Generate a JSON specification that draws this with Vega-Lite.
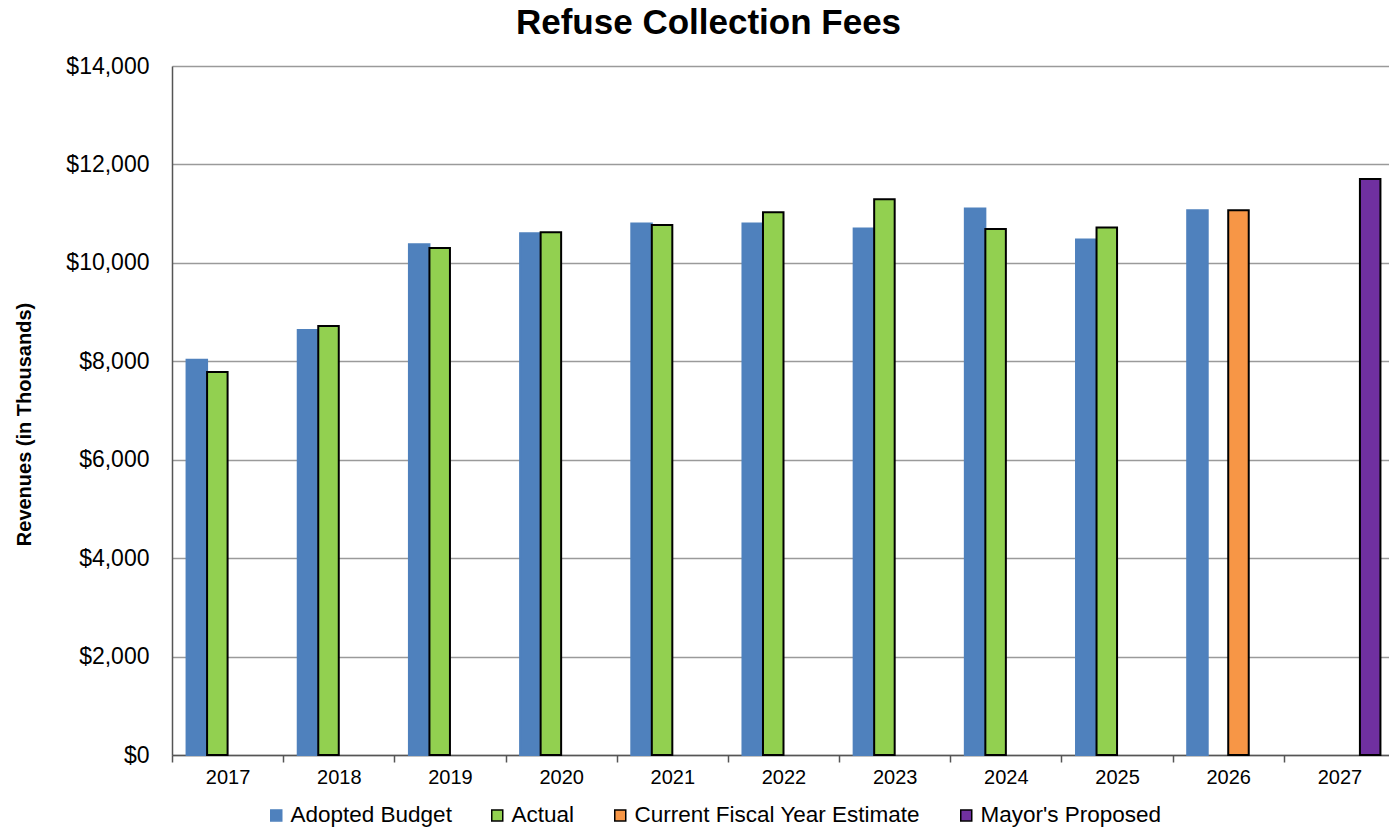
{
  "$schema": "https://vega.github.io/schema/vega-lite/v6.json",
  "autosize": "none",
  "width": 1223,
  "height": 689,
  "padding": {"left": 172, "top": 66, "right": 0, "bottom": 73},
  "background": "white",
  "title": {
    "text": "Refuse Collection Fees",
    "anchor": "middle",
    "frame": "group",
    "dx": -75,
    "offset": 14,
    "font": "Liberation Sans",
    "fontSize": 35,
    "fontWeight": "bold",
    "color": "black"
  },
  "data": {
    "values": [
      {"year": "2017", "series": "Adopted Budget", "value": 8030},
      {"year": "2017", "series": "Actual", "value": 7780},
      {"year": "2018", "series": "Adopted Budget", "value": 8636},
      {"year": "2018", "series": "Actual", "value": 8718},
      {"year": "2019", "series": "Adopted Budget", "value": 10378},
      {"year": "2019", "series": "Actual", "value": 10300},
      {"year": "2020", "series": "Adopted Budget", "value": 10600},
      {"year": "2020", "series": "Actual", "value": 10620},
      {"year": "2021", "series": "Adopted Budget", "value": 10800},
      {"year": "2021", "series": "Actual", "value": 10770},
      {"year": "2022", "series": "Adopted Budget", "value": 10800},
      {"year": "2022", "series": "Actual", "value": 11030},
      {"year": "2023", "series": "Adopted Budget", "value": 10700},
      {"year": "2023", "series": "Actual", "value": 11290},
      {"year": "2024", "series": "Adopted Budget", "value": 11105},
      {"year": "2024", "series": "Actual", "value": 10690},
      {"year": "2025", "series": "Adopted Budget", "value": 10475},
      {"year": "2025", "series": "Actual", "value": 10720},
      {"year": "2026", "series": "Adopted Budget", "value": 11070},
      {"year": "2026", "series": "Current Fiscal Year Estimate", "value": 11070},
      {"year": "2027", "series": "Mayor's Proposed", "value": 11705}
    ]
  },
  "mark": {"type": "bar", "strokeWidth": 2},
  "encoding": {
    "x": {
      "field": "year",
      "type": "nominal",
      "sort": null,
      "scale": {"paddingInner": 0, "paddingOuter": 0},
      "axis": {
        "title": null,
        "labelAngle": 0,
        "tickBand": "extent",
        "ticks": true,
        "tickSize": 7,
        "tickColor": "#555555",
        "tickWidth": 1.5,
        "domainColor": "#555555",
        "domainWidth": 1.5,
        "labelPadding": 5,
        "labelFont": "Liberation Sans",
        "labelFontSize": 20,
        "labelColor": "black",
        "grid": false
      }
    },
    "xOffset": {
      "field": "series",
      "type": "nominal",
      "scale": {
        "domain": ["Adopted Budget", "Actual", "Current Fiscal Year Estimate", "Mayor's Proposed"],
        "paddingInner": 0,
        "paddingOuter": 0.71
      }
    },
    "y": {
      "field": "value",
      "type": "quantitative",
      "scale": {"domain": [0, 14000], "nice": false},
      "axis": {
        "title": "Revenues (in Thousands)",
        "titleFont": "Liberation Sans",
        "titleFontSize": 20,
        "titleFontWeight": "bold",
        "titleColor": "black",
        "titleAngle": 270,
        "titleAlign": "center",
        "titleBaseline": "middle",
        "titleX": -148,
        "titleY": 358,
        "values": [0, 2000, 4000, 6000, 8000, 10000, 12000, 14000],
        "format": "$,.0f",
        "ticks": false,
        "labelPadding": 23,
        "labelFont": "Liberation Sans",
        "labelFontSize": 23,
        "labelColor": "black",
        "domainColor": "#555555",
        "domainWidth": 1.5,
        "grid": true,
        "gridColor": "#9A9A9A",
        "gridWidth": 1.5
      }
    },
    "color": {
      "field": "series",
      "type": "nominal",
      "scale": {
        "domain": ["Adopted Budget", "Actual", "Current Fiscal Year Estimate", "Mayor's Proposed"],
        "range": ["#4F81BD", "#92D050", "#F79646", "#7030A0"]
      },
      "legend": {
        "title": null,
        "orient": "none",
        "direction": "horizontal",
        "legendX": 93,
        "legendY": 738,
        "symbolType": "square",
        "symbolSize": 121,
        "labelFont": "Liberation Sans",
        "labelFontSize": 22.5,
        "labelColor": "black",
        "labelOffset": 3,
        "columnPadding": 34,
        "labelLimit": 400
      }
    },
    "stroke": {
      "field": "series",
      "type": "nominal",
      "scale": {
        "domain": ["Adopted Budget", "Actual", "Current Fiscal Year Estimate", "Mayor's Proposed"],
        "range": ["#4F81BD", "#000000", "#000000", "#000000"]
      },
      "legend": {
        "title": null,
        "orient": "none",
        "direction": "horizontal",
        "legendX": 93,
        "legendY": 738,
        "symbolType": "square",
        "symbolSize": 121,
        "labelFont": "Liberation Sans",
        "labelFontSize": 22.5,
        "labelColor": "black",
        "labelOffset": 3,
        "columnPadding": 34,
        "labelLimit": 400
      }
    }
  },
  "config": {"view": {"stroke": null}}
}
